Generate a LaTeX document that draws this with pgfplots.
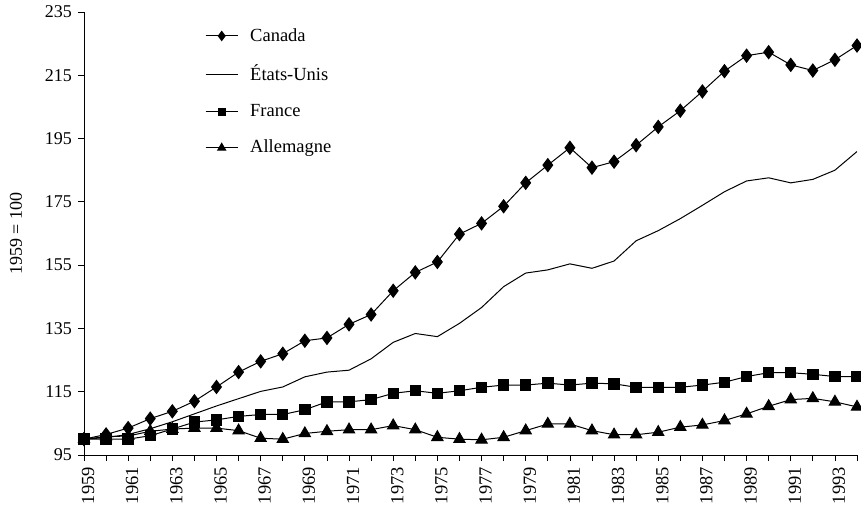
\documentclass[border=0pt]{standalone}
\usepackage{fontspec}
\setmainfont{Liberation Serif}
\usepackage{pgfplots}
\pgfplotsset{compat=1.18}
\begin{document}
\fontsize{18}{21}\selectfont
\begin{tikzpicture}
\begin{axis}[
 scale only axis, width=773pt, height=443pt,
 xmin=1959, xmax=1994, ymin=95, ymax=235,
 axis x line=bottom, axis y line=left,
 axis line style={-, line width=0.9pt},
 xtick={1959,1961,...,1993}, minor xtick={1960,1962,...,1994},
 ytick={95,115,...,235},
 tick align=outside, major tick length=6pt, minor tick length=6pt,
 every tick/.style={black, line width=0.8pt},
 xticklabel style={rotate=90, anchor=east, yshift=-4pt, font=\fontsize{18.5}{20}\selectfont},
 yticklabel style={font=\fontsize{18}{20}\selectfont},
 /pgf/number format/1000 sep={},
 /pgf/number format/assume math mode=true,
 ylabel={1959 = 100},
 ylabel style={at={([xshift=-68pt]rel axis cs:0,0.5)}, anchor=center, font=\fontsize{18}{20}\selectfont},
 legend style={at={([xshift=121pt,yshift=-14pt]rel axis cs:0,1)}, anchor=north west, draw=none, fill=none,
   font=\fontsize{18.5}{20}\selectfont, row sep=17pt, inner sep=0pt,
   /tikz/every odd column/.append style={column sep=10pt}},
 legend cell align=left,
 legend image code/.code={\draw[mark repeat=2,mark phase=2,every mark/.append style={scale=0.7}] plot coordinates {(0pt,0pt)(16pt,0pt)(32pt,0pt)};},
 every axis plot/.append style={black, line width=1pt},
]
\addplot[mark=diamond*, mark size=6.5pt] coordinates {
(1959,100)(1960,101.5)(1961,103.5)(1962,106.5)(1963,108.8)(1964,112)(1965,116.5)(1966,121.2)
(1967,124.6)(1968,127.0)(1969,131.1)(1970,132.0)(1971,136.3)(1972,139.4)(1973,146.9)(1974,152.7)
(1975,156.0)(1976,164.8)(1977,168.2)(1978,173.6)(1979,181.0)(1980,186.6)(1981,192.1)(1982,185.8)
(1983,187.7)(1984,192.9)(1985,198.7)(1986,203.8)(1987,209.9)(1988,216.3)(1989,221.2)(1990,222.3)
(1991,218.3)(1992,216.5)(1993,219.9)(1994,224.4)};
\addlegendentry{Canada}
\addplot[no marks] coordinates {
(1959,100)(1960,100.5)(1961,101.5)(1962,103.3)(1963,105.5)(1964,108)(1965,110.5)(1966,112.8)
(1967,115.1)(1968,116.5)(1969,119.7)(1970,121.2)(1971,121.8)(1972,125.4)(1973,130.6)(1974,133.4)
(1975,132.4)(1976,136.6)(1977,141.6)(1978,148.2)(1979,152.5)(1980,153.5)(1981,155.4)(1982,154.0)
(1983,156.3)(1984,162.7)(1985,165.9)(1986,169.7)(1987,173.9)(1988,178.2)(1989,181.6)(1990,182.6)
(1991,181.0)(1992,182.1)(1993,185.0)(1994,190.9)};
\addlegendentry{États-Unis}
\addplot[mark=square*, mark size=5.2pt] coordinates {
(1959,100)(1960,100)(1961,100)(1962,101.1)(1963,103.2)(1964,105.4)(1965,106.1)(1966,107.2)
(1967,107.8)(1968,107.8)(1969,109.3)(1970,111.8)(1971,111.8)(1972,112.5)(1973,114.5)(1974,115.3)
(1975,114.5)(1976,115.3)(1977,116.4)(1978,117.1)(1979,117.1)(1980,117.7)(1981,117.1)(1982,117.7)
(1983,117.5)(1984,116.4)(1985,116.4)(1986,116.4)(1987,117.1)(1988,118)(1989,119.8)(1990,121)
(1991,121)(1992,120.5)(1993,119.8)(1994,119.8)};
\addlegendentry{France}
\addplot[mark=triangle*, mark size=6.5pt] coordinates {
(1959,100)(1960,100.8)(1961,101)(1962,102.5)(1963,103.2)(1964,103.5)(1965,103.5)(1966,102.7)
(1967,100.3)(1968,100)(1969,101.8)(1970,102.5)(1971,103)(1972,103)(1973,104.3)(1974,103)
(1975,100.6)(1976,100)(1977,99.8)(1978,100.6)(1979,102.7)(1980,104.8)(1981,104.8)(1982,102.7)
(1983,101.4)(1984,101.4)(1985,102.2)(1986,103.8)(1987,104.5)(1988,105.9)(1989,108)(1990,110.4)
(1991,112.5)(1992,112.9)(1993,111.8)(1994,110.2)};
\addlegendentry{Allemagne}
\end{axis}
\pgfresetboundingbox
\path ([xshift=-84pt,yshift=-53pt]current axis.south west) rectangle ([xshift=4pt,yshift=12pt]current axis.north east);
\end{tikzpicture}
\end{document}
